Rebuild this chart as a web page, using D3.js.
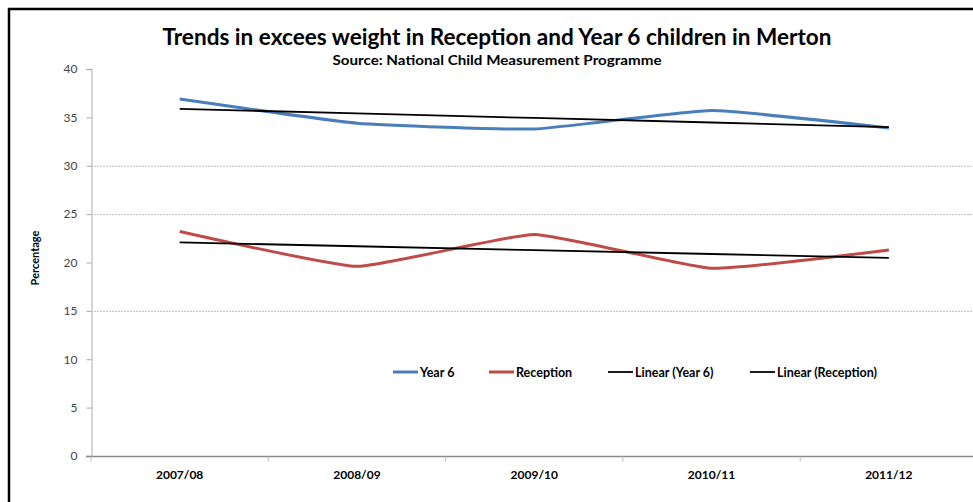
<!DOCTYPE html>
<html><head><meta charset="utf-8">
<script src="https://cdn.jsdelivr.net/npm/d3@7"></script>
<style>
html,body{margin:0;padding:0;background:#fff;}
svg{display:block;}
text{font-family:Lato,"Open Sans",sans-serif;}
</style></head>
<body>
<svg id="c" width="973" height="502"></svg>
<script>
const categories = ["2007/08","2008/09","2009/10","2010/11","2011/12"];
const year6 = [36.9, 34.4, 33.8, 35.7, 33.9];
const reception = [23.2, 19.6, 22.9, 19.4, 21.3];
const yTicks = [0,5,10,15,20,25,30,35,40];
const gridTicks = [15,25,30];
const legendLabels = ["Year 6","Reception","Linear (Year 6)","Linear (Reception)"];
const titleText = "Trends in excees weight in Reception and Year 6 children in Merton";
const subtitleText = "Source: National Child Measurement Programme";
const yTitle = "Percentage";

const svg = d3.select("#c");
const plotLeft = 91, plotRight = 977.5, plotTop = 69, plotBottom = 456;

const x = d3.scaleBand().domain(categories).range([plotLeft, plotRight]);
const xc = c => x(c) + x.bandwidth()/2;
const y = d3.scaleLinear().domain([0,40]).range([plotBottom, plotTop]);

// border
svg.append("path").attr("d", `M9,502 V9 H973`).attr("fill","none").attr("stroke","#000").attr("stroke-width",2.5);

// title
svg.append("text").attr("x",497).attr("y",45).attr("text-anchor","middle")
  .attr("font-size",22).attr("font-weight","bold").attr("fill","#000")
  .attr("textLength",669).attr("lengthAdjust","spacingAndGlyphs").text(titleText);
svg.append("text").attr("x",497).attr("y",65).attr("text-anchor","middle")
  .attr("font-size",14).attr("font-weight","bold").attr("fill","#000")
  .attr("textLength",329).attr("lengthAdjust","spacingAndGlyphs").text(subtitleText);

// gridlines
svg.append("g").selectAll("line").data(gridTicks).join("line")
  .attr("x1",plotLeft).attr("x2",973).attr("y1",d=>y(d)+0.5).attr("y2",d=>y(d)+0.5)
  .attr("stroke","#bdbdbd").attr("stroke-width",1).attr("stroke-dasharray","2,1");

// y axis
const yAxis = d3.axisLeft(y).tickValues(yTicks).tickSize(5).tickPadding(9).tickFormat(d3.format("d"));
const gy = svg.append("g").attr("transform",`translate(${plotLeft+0.5},0)`).call(yAxis);
gy.select(".domain").attr("stroke","#c8c8c8").attr("stroke-width",1.5);
gy.selectAll(".tick line").attr("stroke","#aaa");
gy.selectAll(".tick text").attr("font-size",12).attr("fill","#444").attr("font-family","Lato,sans-serif");

// x axis
const gx = svg.append("g").attr("transform",`translate(0,${plotBottom+0.5})`);
gx.append("line").attr("x1",plotLeft-5).attr("x2",973).attr("y1",0).attr("y2",0).attr("stroke","#8a8a8a").attr("stroke-width",1.5);
const bounds = categories.map(c => x(c)).concat([plotRight]);
gx.selectAll("line.tk").data(bounds).join("line").attr("class","tk")
  .attr("x1",d=>d).attr("x2",d=>d).attr("y1",0).attr("y2",5).attr("stroke","#bbb");
gx.selectAll("text").data(categories).join("text")
  .attr("x",d=>xc(d)).attr("y",22).attr("text-anchor","middle")
  .attr("font-size",12).attr("font-weight","bold").attr("fill","#000").text(d=>d);

// y title
svg.append("text").attr("transform","translate(39,258) rotate(-90)").attr("text-anchor","middle")
  .attr("font-size",11).attr("font-weight","bold").attr("fill","#000").text(yTitle);

// trend
function trend(vals){
  const xs = vals.map((v,i)=>i);
  const mx = d3.mean(xs), my = d3.mean(vals);
  const b = d3.sum(xs.map((xi,i)=>(xi-mx)*(vals[i]-my))) / d3.sum(xs.map(xi=>(xi-mx)**2));
  const a = my - b*mx;
  return xs.map(xi => a + b*xi);
}

const line = d3.line().x((d,i)=>xc(categories[i])).y(d=>y(d)).curve(d3.curveCardinal.tension(0.6));
const straight = d3.line().x((d,i)=>xc(categories[i])).y(d=>y(d));

svg.append("path").datum(year6).attr("d",line).attr("fill","none").attr("stroke","#4a7ebb").attr("stroke-width",3);
svg.append("path").datum(reception).attr("d",line).attr("fill","none").attr("stroke","#be4b48").attr("stroke-width",3);
svg.append("path").datum(trend(year6)).attr("d",straight).attr("fill","none").attr("stroke","#000").attr("stroke-width",1.8);
svg.append("path").datum(trend(reception)).attr("d",straight).attr("fill","none").attr("stroke","#000").attr("stroke-width",1.8);

// legend
const legColors = ["#4a7ebb","#be4b48","#000","#000"];
const legX = [393, 489, 608, 750];
const legW = [3,3,1.8,1.8];
const lg = svg.append("g");
legendLabels.forEach((t,i)=>{
  lg.append("line").attr("x1",legX[i]).attr("x2",legX[i]+25).attr("y1",372).attr("y2",372)
    .attr("stroke",legColors[i]).attr("stroke-width",legW[i]);
  lg.append("text").attr("x",legX[i]+27).attr("y",376.5).attr("font-size",12.5).attr("font-weight","bold")
    .attr("fill","#000").text(t);
});
</script>
</body></html>
